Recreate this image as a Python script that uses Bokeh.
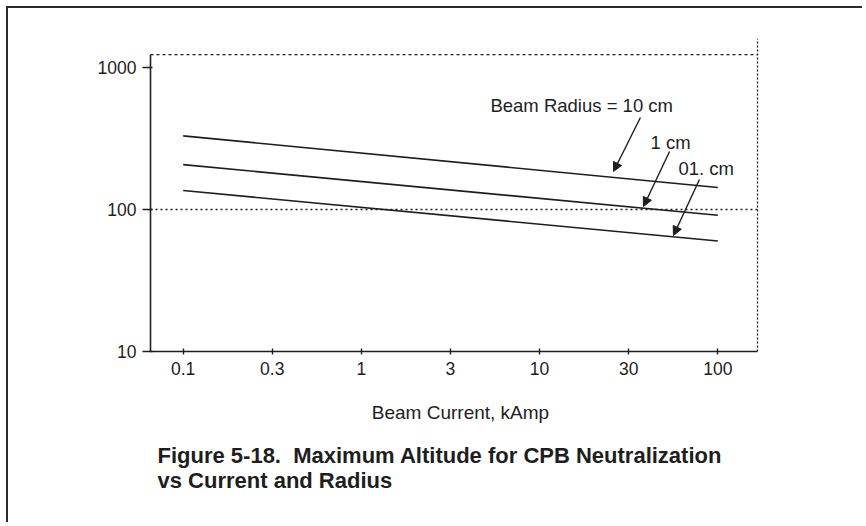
from bokeh.plotting import figure
from bokeh.models import (Range1d, FixedTicker, CustomJSTickFormatter, Label, Arrow,
                          NormalHead, Title)
from bokeh.embed import file_html
from bokeh.resources import INLINE

# ---- data ----
beam_current = [0.1, 100]          # kAmp
alt_radius_10cm = [330, 143]       # km
alt_radius_1cm = [207, 91]
alt_radius_01cm = [136, 60]
x_tick_values = [0.1, 0.31623, 1, 3.1623, 10, 31.623, 100]
x_tick_labels = ["0.1", "0.3", "1", "3", "10", "30", "100"]
y_tick_values = [10, 100, 1000]
y_tick_labels = ["10", "100", "1000"]
series_labels = ["Beam Radius = 10 cm", "1 cm", "01. cm"]
x_label = "Beam Current, kAmp"
caption = ["Figure 5-18.\u00a0 Maximum Altitude for CPB Neutralization",
           "vs Current and Radius"]

FONT = "Liberation Sans"
INK = "#1e1e1e"

x_lo, x_axis_hi, x_hi = 0.06555, 167.1, 197.6
y_lo, y_axis_hi, y_hi = 10, 1230, 1600

W, H = 856, 516
p = figure(width=W, height=H, x_axis_type="log", y_axis_type="log",
           x_range=Range1d(x_lo, x_hi), y_range=Range1d(y_lo, y_hi),
           output_backend="svg", toolbar_location=None,
           min_border_left=142, min_border_right=W - 762,
           min_border_top=30, min_border_bottom=H - 343)
p.outline_line_color = None
p.xgrid.visible = False
p.ygrid.visible = False
p.background_fill_color = "white"
p.border_fill_color = "white"
p.styles = {"margin-left": "6px", "margin-top": "6px",
            "border-left": "2px solid #2a2a2a", "border-top": "2px solid #2a2a2a"}

# axes
xa = p.xaxis[0]
xa.ticker = FixedTicker(ticks=x_tick_values, minor_ticks=[])
xa.formatter = CustomJSTickFormatter(args=dict(labels=x_tick_labels),
                                     code="return labels[index]")
xa.bounds = (x_lo, x_axis_hi)
xa.major_tick_in = 3
xa.major_tick_out = 3
xa.minor_tick_line_color = None
xa.major_label_standoff = 7
xa.axis_label = x_label
xa.axis_label_standoff = 24
xa.axis_label_text_font_style = "normal"

ya = p.yaxis[0]
ya.ticker = FixedTicker(ticks=y_tick_values, minor_ticks=[])
ya.formatter = CustomJSTickFormatter(args=dict(labels=y_tick_labels),
                                     code="return labels[index]")
ya.bounds = (y_lo, y_axis_hi)
ya.major_tick_in = 2
ya.major_tick_out = 8
ya.minor_tick_line_color = None
ya.major_label_standoff = 6

for ax in (xa, ya):
    ax.axis_line_color = INK
    ax.axis_line_width = 1.6
    ax.major_tick_line_color = INK
    ax.major_tick_line_width = 1.4
    ax.major_label_text_font = FONT
    ax.major_label_text_font_size = "17.5px"
    ax.major_label_text_color = INK
    ax.axis_label_text_font = FONT
    ax.axis_label_text_font_size = "19px"
    ax.axis_label_text_color = INK

# reference dashed lines
p.line([x_lo, x_axis_hi], [y_axis_hi, y_axis_hi], line_color=INK, line_width=1.3,
       line_dash="3 3")
p.line([x_lo, x_axis_hi], [100, 100], line_color=INK, line_width=1.3, line_dash="2 3")
p.line([x_axis_hi, x_axis_hi], [y_lo, y_hi], line_color=INK, line_width=1.3,
       line_dash="2 2")

# data lines
for ys in (alt_radius_10cm, alt_radius_1cm, alt_radius_01cm):
    p.line(beam_current, ys, line_color=INK, line_width=1.6)

# annotations
label_pos = [(5.30, 540), (41.9, 296.5), (60.2, 194.5)]
for (lx, ly), txt in zip(label_pos, series_labels):
    p.add_layout(Label(x=lx, y=ly, text=txt, text_font=FONT, text_font_size="18.5px",
                       text_color=INK, text_baseline="middle", text_align="left"))

arrows = [((36.8, 444.6), (26.0, 185.2)),
          ((53.6, 256.0), (38.3, 105.0)),
          ((78.9, 162.6), (56.4, 65.6))]
for (xs, ys_), (xe, ye) in arrows:
    p.add_layout(Arrow(x_start=xs, y_start=ys_, x_end=xe, y_end=ye,
                       line_color=INK, line_width=1.4,
                       end=NormalHead(size=9, fill_color=INK, line_color=INK,
                                      line_width=1)))

# caption (one two-line title below the axis)
p.add_layout(Title(text="\n".join(caption), align="left", offset=7, standoff=29,
                   text_font=FONT, text_font_size="22px", text_line_height=1.02,
                   text_font_style="bold", text_color=INK), "below")

open("out.html", "w").write(file_html(p, INLINE))
